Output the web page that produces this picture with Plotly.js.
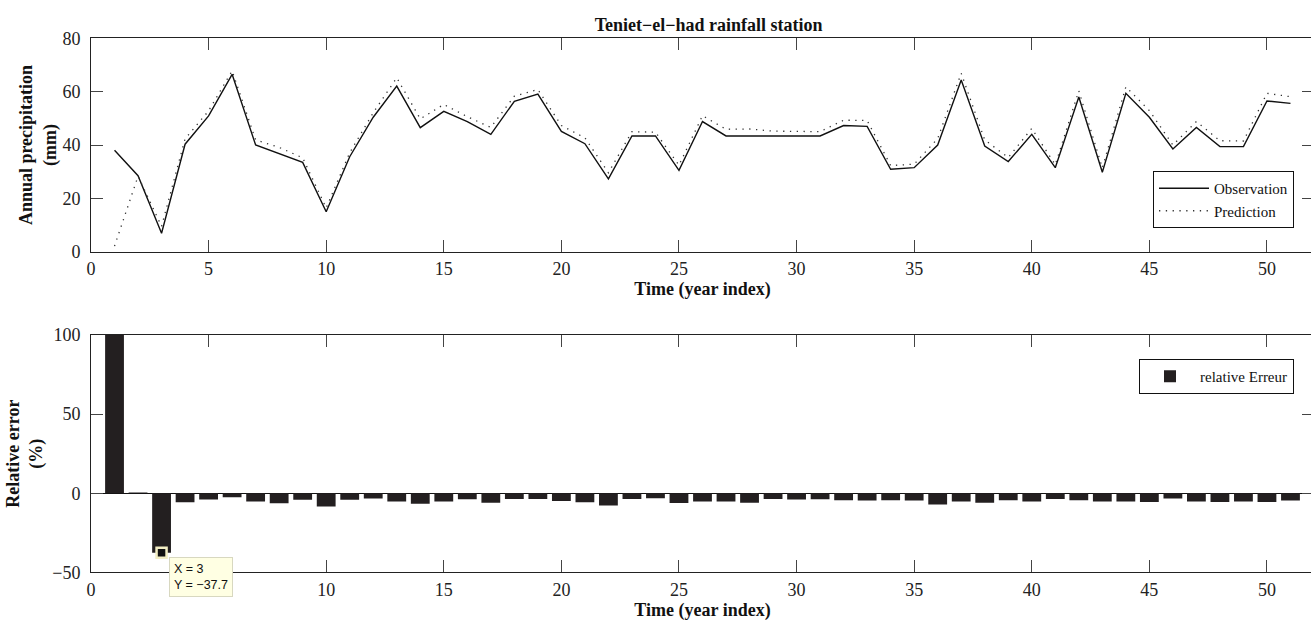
<!DOCTYPE html>
<html>
<head>
<meta charset="utf-8">
<script src="https://cdn.plot.ly/plotly-3.0.1.min.js"></script>
<style>
  html, body { margin: 0; padding: 0; overflow: hidden; background: #fff; }
  #chart { width: 1316px; height: 622px; }
</style>
</head>
<body>
<div id="chart"></div>
<script>
// ---- data ----
const years = [1,2,3,4,5,6,7,8,9,10,11,12,13,14,15,16,17,18,19,20,21,22,23,24,25,26,27,28,29,30,31,32,33,34,35,36,37,38,39,40,41,42,43,44,45,46,47,48,49,50,51];

const observation = [38, 28.5, 6.9, 40.3, 50.9, 66.5, 40, 36.8, 33.5, 15,
  35.6, 50.4, 62.1, 46.5, 52.6, 48.8, 44, 56.4, 59.1, 45.1,
  40.5, 27.3, 43.4, 43.4, 30.5, 48.8, 43.4, 43.4, 43.4, 43.4,
  43.4, 47.3, 47, 30.9, 31.5, 40, 64.4, 39.6, 33.8, 44,
  31.5, 58, 29.8, 59.4, 50.4, 38.5, 46.6, 39.4, 39.4, 56.5, 55.6];

const prediction = [2.1, 28.3, 9.5, 42.3, 52.8, 67.8, 41.9, 39.1, 35.2, 16.4,
  37.1, 52.1, 65.2, 49.8, 55.2, 50.6, 46.6, 58.3, 60.8, 47.3,
  42.7, 29.6, 45, 44.8, 32.4, 51, 45.9, 46, 45.2, 45.1,
  45, 49.3, 49.2, 32.3, 32.8, 42.4, 66.9, 41.9, 35.3, 46.2,
  32.6, 60.3, 31.4, 61.8, 52.9, 40, 48.8, 41.6, 41.5, 59.4, 58.1];

const relativeError = [100, 0.4, -37.7, -5.7, -4.0, -2.5, -5.2, -6.3, -4.2, -8.4,
  -4.2, -3.4, -5.2, -6.7, -5.2, -3.8, -6.0, -3.6, -3.6, -5.0,
  -5.7, -7.8, -3.6, -3.2, -6.2, -5.2, -5.2, -6.0, -3.6, -4.0,
  -3.8, -4.4, -4.6, -4.4, -4.6, -7.1, -5.2, -6.0, -4.4, -5.2,
  -3.6, -4.4, -5.2, -5.2, -5.6, -3.4, -5.2, -5.6, -5.2, -5.6, -4.6];

const xTicks = [0,5,10,15,20,25,30,35,40,45,50];
const yTicksTop = [0,20,40,60,80];
const yTicksBottom = [-50,0,50,100];
const tipIndex = 2; // data tip on year 3

// ---- styling ----
const SERIF = 'Liberation Serif, Times New Roman, serif';
const INK = '#222222';
const W = 1316, H = 622, ML = 91, MR = 2;
const PW = W - ML - MR;

function axisBase(extra) {
  return Object.assign({
    showline: true, linecolor: INK, linewidth: 1, mirror: 'ticks',
    ticks: 'inside', ticklen: 12, tickwidth: 1, tickcolor: '#444',
    showgrid: false, zeroline: false, automargin: false,
    tickfont: {family: SERIF, size: 18, color: INK}
  }, extra);
}

const fmt = v => String(v).replace('-', '\u2212');
const titleFont = {family: SERIF, size: 18, weight: 'bold', color: '#111'};

const traces = [
  {x: years, y: observation, type: 'scatter', mode: 'lines', name: 'Observation',
   line: {color: '#111', width: 1.4}, xaxis: 'x', yaxis: 'y', legend: 'legend'},
  {x: years, y: prediction, type: 'scatter', mode: 'lines', name: 'Prediction',
   line: {color: '#333', width: 1.3, dash: '1.3px,5.5px'}, xaxis: 'x', yaxis: 'y', legend: 'legend'},
  {x: years, y: relativeError, type: 'bar', name: 'relative Erreur', width: 0.8,
   marker: {color: '#231f20', line: {width: 0}}, xaxis: 'x2', yaxis: 'y2', legend: 'legend2'},
  {x: [years[tipIndex]], y: [relativeError[tipIndex]], type: 'scatter', mode: 'markers',
   marker: {symbol: 'square', size: 10, color: '#111', line: {color: '#f3eec4', width: 2.5}},
   showlegend: false, xaxis: 'x2', yaxis: 'y2', cliponaxis: false}
];

const layout = {
  width: W, height: H,
  margin: {l: ML, r: MR, t: 0, b: 0},
  paper_bgcolor: '#fff', plot_bgcolor: '#fff',
  showlegend: true,
  hovermode: false,
  font: {family: SERIF, color: INK},
  title: {text: 'Teniet\u2212el\u2212had rainfall station', x: 0.505, xref: 'paper',
          y: 1 - 25 / H, yref: 'container', yanchor: 'middle', font: titleFont},
  xaxis: axisBase({domain: [0, 1], anchor: 'y', range: [0, 52], tickvals: xTicks, ticklabelstandoff: 1,
    title: {text: 'Time (year index)', standoff: 4, font: titleFont}}),
  yaxis: axisBase({domain: [(H - 251.7) / H, (H - 38.3) / H], anchor: 'x', range: [0, 80], tickvals: yTicksTop,
    ticklabelstandoff: 6,
    title: {text: 'Annual precipitation<br>(mm)', standoff: 1, font: titleFont}}),
  xaxis2: axisBase({domain: [0, 1], anchor: 'y2', range: [0, 52], tickvals: xTicks, ticklabelstandoff: 1,
    title: {text: 'Time (year index)', standoff: 2, font: titleFont}}),
  yaxis2: axisBase({domain: [(H - 572.3) / H, (H - 335) / H], anchor: 'x2', range: [-50, 100], tickvals: yTicksBottom,
    ticklabelstandoff: 6,
    zeroline: true, zerolinecolor: '#111', zerolinewidth: 1,
    title: {text: 'Relative error<br>(%)', standoff: 4, font: titleFont}}),
  legend: {x: (1294 - ML) / PW, xref: 'paper', xanchor: 'right', y: 1 - 228 / H, yref: 'paper', yanchor: 'bottom',
    bgcolor: '#fff', bordercolor: '#111', borderwidth: 1, font: {family: SERIF, size: 15, color: '#111'},
    tracegroupgap: 0, itemwidth: 50},
  legend2: {x: (1294 - ML) / PW, xref: 'paper', xanchor: 'right', y: 1 - 359 / H, yref: 'paper', yanchor: 'top',
    bgcolor: '#fff', bordercolor: '#111', borderwidth: 1, font: {family: SERIF, size: 15, color: '#111'},
    itemwidth: 50},
  annotations: [{
    xref: 'x2', yref: 'y2', x: years[tipIndex], y: relativeError[tipIndex],
    text: 'X = ' + years[tipIndex] + '<br>Y = ' + fmt(relativeError[tipIndex]),
    showarrow: false, xanchor: 'left', yanchor: 'top', xshift: 7, yshift: -4, align: 'left',
    bgcolor: '#ffffe3', bordercolor: '#d8d8c0', borderwidth: 1, borderpad: 4,
    font: {family: 'Liberation Sans, Arial, sans-serif', size: 12.5, color: '#111'}
  }]
};

Plotly.newPlot('chart', traces, layout, {displayModeBar: false, staticPlot: true});
</script>
</body>
</html>
